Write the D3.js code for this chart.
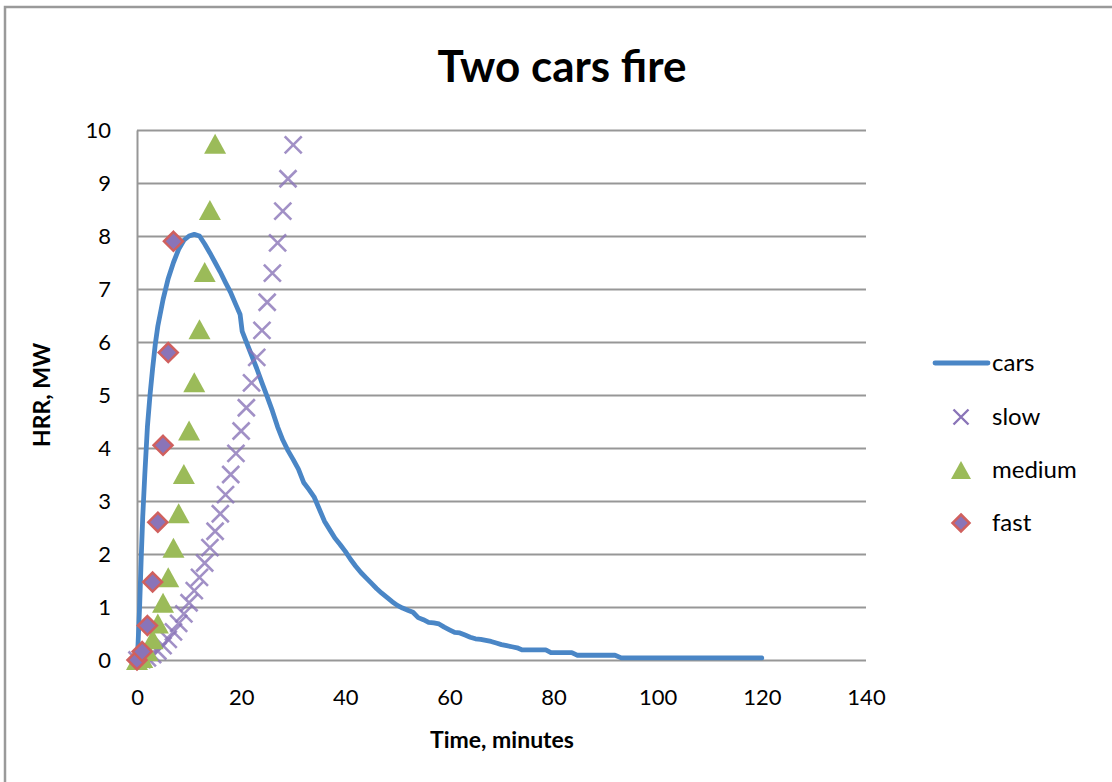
<!DOCTYPE html>
<html>
<head>
<meta charset="utf-8">
<script src="https://cdn.jsdelivr.net/npm/d3@7"></script>
<style>
  body { margin: 0; background: #fff; }
  .vis { width: 1112px; height: 782px; }
  text { font-family: Lato, "Open Sans", sans-serif; fill: #000; }
</style>
</head>
<body>
<div class="vis"></div>
<script>
(function() {
  'use strict';

  // cars curve (minutes, MW)
  var carsTime = [0, 0.2, 0.5, 0.8, 1.1, 1.5, 2, 2.5, 3, 3.5, 4, 5, 6, 7, 8, 9, 10, 11, 12, 13, 14, 15,
    16, 17, 18, 19, 19.8, 20.2, 21, 22, 23, 24, 25, 26, 27, 28, 29, 30, 31, 32, 33, 34, 35, 36, 37, 38,
    39, 40, 41, 42, 43, 44, 45, 46, 47, 48, 49, 50, 51, 52, 53, 54, 55, 56, 57, 58, 59, 60, 61, 62, 63,
    64, 65, 66, 67, 68, 69, 70, 71, 72, 73, 74, 75, 78.5, 79.5, 83.5, 84.5, 91.8, 93, 120];
  var carsHRR = [0, 0.3, 1.0, 1.9, 2.7, 3.5, 4.4, 5.0, 5.5, 5.95, 6.3, 6.8, 7.2, 7.5, 7.75, 7.92, 8.0, 8.03, 8.0, 7.85, 7.68, 7.5,
    7.32, 7.12, 6.93, 6.7, 6.52, 6.2, 6.0, 5.75, 5.5, 5.23, 4.97, 4.7, 4.4, 4.15, 3.95, 3.78, 3.6, 3.35, 3.22, 3.08, 2.85, 2.62, 2.46, 2.3,
    2.18, 2.05, 1.9, 1.77, 1.65, 1.55, 1.45, 1.35, 1.26, 1.18, 1.1, 1.03, 0.98, 0.94, 0.9, 0.8, 0.76, 0.71, 0.7, 0.68, 0.62, 0.57, 0.52, 0.51, 0.47,
    0.43, 0.4, 0.39, 0.37, 0.35, 0.32, 0.29, 0.27, 0.25, 0.23, 0.19, 0.19, 0.19, 0.14, 0.14, 0.09, 0.09, 0.04, 0.04];

  // t-squared design fires, one point per minute
  var slowTime = d3.range(0, 31);
  var slowHRR = [0, 0.01, 0.04, 0.10, 0.17, 0.27, 0.39, 0.53, 0.69, 0.87, 1.08, 1.31, 1.56, 1.83, 2.12, 2.43,
    2.76, 3.12, 3.50, 3.90, 4.32, 4.76, 5.23, 5.71, 6.22, 6.75, 7.30, 7.87, 8.47, 9.08, 9.72];
  var mediumTime = d3.range(0, 16);
  var mediumHRR = [0, 0.04, 0.17, 0.39, 0.69, 1.08, 1.56, 2.12, 2.77, 3.51, 4.33, 5.24, 6.24, 7.32, 8.49, 9.74];
  var fastTime = d3.range(0, 8);
  var fastHRR = [0, 0.16, 0.65, 1.47, 2.6, 4.05, 5.8, 7.9];

  var xTicks = [0, 20, 40, 60, 80, 100, 120, 140];
  var yTicks = [0, 1, 2, 3, 4, 5, 6, 7, 8, 9, 10];
  var seriesNames = ['cars', 'slow', 'medium', 'fast'];

  var blue = '#4a86c6', purple = '#8a74b8', green = '#9bbb59', red = '#d0605e';

  var svg = d3.select('.vis').append('svg')
    .attr('width', 1112)
    .attr('height', 782);

  // chart frame
  svg.append('rect')
    .attr('x', 5).attr('y', 7)
    .attr('width', 1130).attr('height', 800)
    .attr('fill', 'none')
    .attr('stroke', '#9a9a9a')
    .attr('stroke-width', 2.5);

  var x = d3.scaleLinear().domain([0, 140]).range([137, 866]);
  var y = d3.scaleLinear().domain([0, 10]).range([660, 130]);

  // gridlines
  svg.append('g')
    .attr('transform', 'translate(137,0)')
    .call(d3.axisLeft(y).tickValues(yTicks).tickSize(-(866 - 137)).tickFormat(''))
    .call(function(g) {
      g.select('.domain').remove();
      g.selectAll('line').attr('stroke', '#979797').attr('stroke-width', 2);
    });

  // y axis line + labels
  svg.append('g')
    .attr('transform', 'translate(137,0)')
    .call(d3.axisLeft(y).tickValues(yTicks).tickSize(0).tickPadding(26))
    .call(function(g) {
      g.select('.domain').attr('stroke', '#979797').attr('stroke-width', 2);
      g.selectAll('text').style('font-size', '22px').attr('dy', '0.35em');
    });

  // x axis labels
  svg.append('g')
    .attr('transform', 'translate(0,660)')
    .call(d3.axisBottom(x).tickValues(xTicks).tickSize(0).tickPadding(45))
    .call(function(g) {
      g.select('.domain').remove();
      g.selectAll('text').style('font-size', '22px').attr('dy', '0');
    });

  // title + axis titles
  svg.append('text')
    .attr('x', 562).attr('y', 82)
    .attr('text-anchor', 'middle')
    .style('font-size', '44px').style('font-weight', 'bold')
    .text('Two cars fire');

  svg.append('text')
    .attr('x', 502).attr('y', 748)
    .attr('text-anchor', 'middle')
    .style('font-size', '23px').style('font-weight', 'bold')
    .text('Time, minutes');

  svg.append('text')
    .attr('transform', 'translate(50,395) rotate(-90)')
    .attr('text-anchor', 'middle')
    .style('font-size', '23px').style('font-weight', 'bold')
    .text('HRR, MW');

  // cars line
  var line = d3.line()
    .x(function(d) { return x(d[0]); })
    .y(function(d) { return y(d[1]); });

  svg.append('path')
    .datum(d3.zip(carsTime, carsHRR))
    .attr('d', line)
    .attr('fill', 'none')
    .attr('stroke', blue)
    .attr('stroke-width', 4.8)
    .attr('stroke-linejoin', 'round')
    .attr('stroke-linecap', 'round');

  var crossPath = function(s) {
    return 'M' + (-s) + ',' + (-s) + 'L' + s + ',' + s + 'M' + (-s) + ',' + s + 'L' + s + ',' + (-s);
  };
  var triPath = function(w, h) {
    return 'M0,' + (-h / 2) + 'L' + (w / 2) + ',' + (h / 2) + 'L' + (-w / 2) + ',' + (h / 2) + 'Z';
  };
  var diamondPath = function(s) {
    return 'M0,' + (-s) + 'L' + s + ',0L0,' + s + 'L' + (-s) + ',0Z';
  };

  function drawMarkers(times, vals, cls, path, attrs) {
    var sel = svg.append('g').selectAll('.' + cls)
      .data(d3.zip(times, vals))
      .enter().append('path')
        .attr('class', cls)
        .attr('transform', function(d) { return 'translate(' + x(d[0]) + ',' + y(d[1]) + ')'; })
        .attr('d', path);
    Object.keys(attrs).forEach(function(k) { sel.attr(k, attrs[k]); });
  }

  drawMarkers(slowTime, slowHRR, 'slow', crossPath(8.5),
    {fill: 'none', stroke: purple, 'stroke-width': 2.6, 'stroke-opacity': 0.8});
  drawMarkers(mediumTime, mediumHRR, 'medium', triPath(22, 20), {fill: green});
  drawMarkers(fastTime, fastHRR, 'fast', diamondPath(9.5),
    {fill: purple, stroke: red, 'stroke-width': 2.5});

  // legend
  var legend = svg.append('g');
  var legY = [363, 417, 470, 523];
  legend.append('line')
    .attr('x1', 935).attr('x2', 988)
    .attr('y1', legY[0]).attr('y2', legY[0])
    .attr('stroke', blue).attr('stroke-width', 4.8).attr('stroke-linecap', 'round');
  legend.append('path').attr('transform', 'translate(961,' + legY[1] + ')')
    .attr('d', crossPath(7.5)).attr('stroke', purple).attr('stroke-width', 2.4).attr('fill', 'none');
  legend.append('path').attr('transform', 'translate(961,' + legY[2] + ')')
    .attr('d', triPath(20, 18)).attr('fill', green);
  legend.append('path').attr('transform', 'translate(961,' + legY[3] + ')')
    .attr('d', diamondPath(8.5)).attr('fill', purple).attr('stroke', red).attr('stroke-width', 2.5);

  legend.selectAll('.leg-text')
    .data(seriesNames)
    .enter().append('text')
      .attr('class', 'leg-text')
      .attr('x', 992)
      .attr('y', function(d, i) { return legY[i]; })
      .attr('dy', '0.35em')
      .style('font-size', '24px')
      .text(function(d) { return d; });
}());
</script>
</body>
</html>
